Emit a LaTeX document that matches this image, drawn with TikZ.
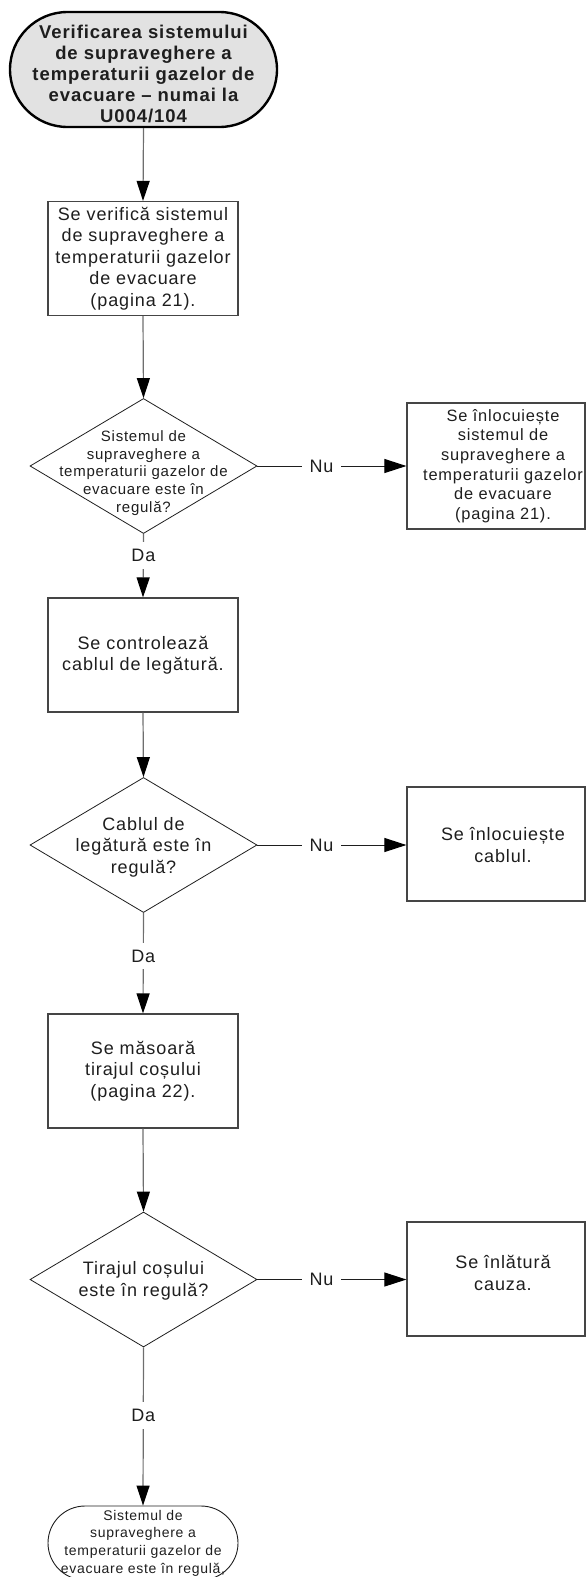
\documentclass[tikz,border=0pt]{standalone}
\usepackage{fontspec}
\setmainfont{Liberation Sans}[LetterSpace=5]
\usetikzlibrary{arrows.meta,shapes.geometric,shapes.misc}

\definecolor{ink}{HTML}{1E1E1E}
\definecolor{boxline}{HTML}{454545}
\definecolor{vline}{HTML}{6E6E6E}
\definecolor{termfill}{HTML}{E2E2E2}

\newcommand\szmain{\fontsize{18}{21.5}\selectfont}
\newcommand\szside{\fontsize{16.4}{19.6}\selectfont}
\newcommand\szsmall{\fontsize{15}{17.8}\selectfont}
\newcommand\szend{\fontsize{14}{17.7}\selectfont}
\newcommand\sztitle{\fontsize{18.5}{21}\selectfont\bfseries}

\begin{document}
\begin{tikzpicture}[x=1pt,y=-1pt,
  every node/.style={text=ink},
  proc/.style={draw=boxline, line width=1.2pt, minimum width=190pt,
    minimum height=114pt, inner sep=0pt, align=center, font=\szmain},
  sidebox/.style={draw=boxline, line width=1.2pt, minimum width=178pt,
    inner sep=0pt},
  dec/.style={diamond, draw=ink, line width=0.8pt, minimum width=227pt,
    minimum height=135pt, inner sep=0pt},
  lbl/.style={align=center, inner sep=0pt},
  flow/.style={draw=vline, line width=1.2pt,
    -{Triangle[length=20pt,width=13pt,color=black]}},
  side/.style={draw=ink, line width=1pt,
    -{Triangle[length=22pt,width=14pt,color=black]}},
  cutv/.style={fill=white, inner xsep=4pt, inner ysep=7pt, font=\szmain},
  cuth/.style={fill=white, inner xsep=8pt, inner ysep=4pt, font=\szmain}]

\useasboundingbox (0,0) rectangle (586,1577);
\clip (0,0) rectangle (586,1577);

% start terminal
\node[rounded rectangle, draw=black, line width=2.4pt, fill=termfill,
  minimum width=267pt, minimum height=115pt, inner sep=0pt]
  (start) at (143.5,69.5) {};
\node[lbl, font=\sztitle] (startt) at (143.5,73.5)
  {Verificarea sistemului\\de supraveghere a\\temperaturii gazelor de\\evacuare – numai la\\U004/104};

% main column
\node[proc] (b1) at (143,258.5)
  {Se verifică sistemul\\de supraveghere a\\temperaturii gazelor\\de evacuare\\(pagina 21).};
\node[dec] (d1) at (143.5,466) {};
\node[lbl, font=\szsmall] (d1t) at (143.5,473)
  {Sistemul de\\supraveghere a\\temperaturii gazelor de\\evacuare este în\\regulă?};

\node[proc] (b2) at (143,655) {Se controlează\\cablul de legătură.};
\node[dec] (d2) at (143.5,845) {};
\node[lbl, font=\szmain] (d2t) at (143.5,847)
  {Cablul de\\legătură este în\\regulă?};

\node[proc] (b3) at (143,1071) {Se măsoară\\tirajul coșului\\(pagina 22).};
\node[dec] (d3) at (143.5,1279.5) {};
\node[lbl, font=\szmain] (d3t) at (143.5,1281)
  {Tirajul coșului\\este în regulă?};

% end terminal
\node[rounded rectangle, draw=ink, line width=0.9pt, minimum width=190pt,
  minimum height=74pt, inner sep=0pt] (stop) at (143,1543) {};
\node[lbl, font=\szend] (stopt) at (143,1543)
  {Sistemul de\\supraveghere a\\temperaturii gazelor de\\evacuare este în regulă,};

% side boxes
\node[sidebox, minimum height=126pt] (r1) at (496,466) {};
\node[lbl, font=\szside] (r1t) at (503,466)
  {Se înlocuiește\\sistemul de\\supraveghere a\\temperaturii gazelor\\de evacuare\\(pagina 21).};
\node[sidebox, minimum height=114pt] (r2) at (496,844) {};
\node[lbl, font=\szmain] (r2t) at (503,845) {Se înlocuiește\\cablul.};
\node[sidebox, minimum height=114pt] (r3) at (496,1279) {};
\node[lbl, font=\szmain] (r3t) at (503,1273) {Se înlătură\\cauza.};

% connectors
\draw[flow] (start.south) -- (b1.north);
\draw[flow] (b1.south) -- (d1.north);
\draw[flow] (d1.south) -- node[cutv, pos=0.34] (da1) {Da} (b2.north);
\draw[flow] (b2.south) -- (d2.north);
\draw[flow] (d2.south) -- node[cutv, pos=0.43] (da2) {Da} (b3.north);
\draw[flow] (b3.south) -- (d3.north);
\draw[flow] (d3.south) -- node[cutv, pos=0.43] (da3) {Da} (stop.north);

\draw[side] (d1.east) -- node[cuth, pos=0.43] (nu1) {Nu} (r1.west |- d1.east);
\draw[side] (d2.east) -- node[cuth, pos=0.43] (nu2) {Nu} (r2.west |- d2.east);
\draw[side] (d3.east) -- node[cuth, pos=0.43] (nu3) {Nu} (r3.west |- d3.east);
\end{tikzpicture}
\end{document}
